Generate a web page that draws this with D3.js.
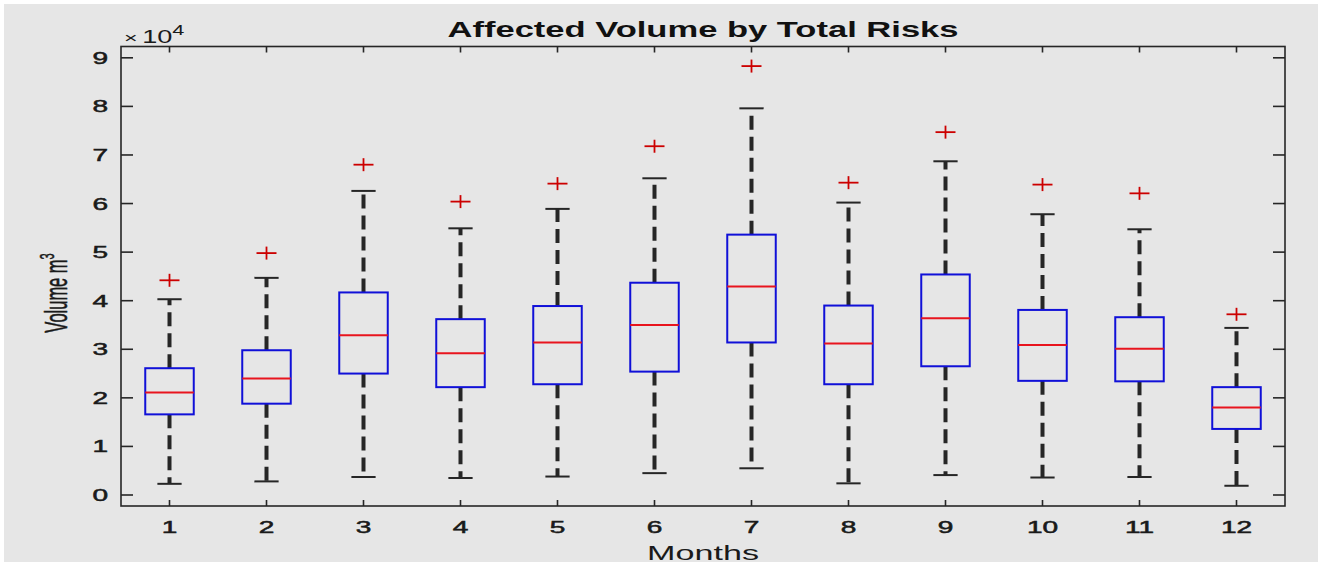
<!DOCTYPE html>
<html><head><meta charset="utf-8">
<script src="https://cdn.jsdelivr.net/npm/d3@7"></script>
<style>body{margin:0;background:#fff;} text{font-family:Arial,"Liberation Sans",Helvetica,sans-serif;}</style>
</head><body>
<svg id="c" width="1322" height="567"></svg>
<script>
const months = ["1","2","3","4","5","6","7","8","9","10","11","12"];
const lowerWhisker = [2300, 2800, 3700, 3500, 3800, 4500, 5500, 2400, 4100, 3600, 3700, 1900];
const q1 = [16600, 18800, 25000, 22200, 22800, 25400, 31400, 22800, 26500, 23500, 23400, 13600];
const median = [21100, 24000, 32900, 29200, 31400, 35000, 42900, 31200, 36400, 30900, 30100, 18000];
const q3 = [26100, 29800, 41700, 36200, 38900, 43700, 53600, 39000, 45400, 38100, 36600, 22200];
const upperWhisker = [40300, 44700, 62600, 54900, 58900, 65200, 79600, 60200, 68700, 57800, 54700, 34400];
const outliers = [44200, 49800, 68000, 60400, 64100, 71800, 88300, 64300, 74700, 63900, 62100, 37200];
const yTicks = [0,10000,20000,30000,40000,50000,60000,70000,80000,90000];

const svg = d3.select("#c");
const L=121, R=1285, T=46.5, B=506;
const SX = 1.7;
svg.append("rect").attr("x",4).attr("y",4).attr("width",1314).attr("height",558).attr("fill","#e6e6e6");

const x = d3.scaleLinear().domain([0.5,12.5]).range([L,R]);
const y = d3.scaleLinear().domain([-2265,92330]).range([B,T]);
const axisColor="#262626";
const txtCol="#1a1a1a";

const data = months.map((m,i)=>({m, i:i+1, lo:lowerWhisker[i], q1:q1[i], med:median[i], q3:q3[i], hi:upperWhisker[i], out:outliers[i]}));
const boxW = x(1.25)-x(1), capW = x(1.125)-x(1);
const g = svg.append("g");
data.forEach(d=>{
  const cx = x(d.i);
  g.append("line").attr("x1",cx).attr("x2",cx).attr("y1",y(d.q3)).attr("y2",y(d.hi))
    .attr("stroke","#262626").attr("stroke-width",4).attr("stroke-dasharray","14,7");
  g.append("line").attr("x1",cx).attr("x2",cx).attr("y1",y(d.q1)).attr("y2",y(d.lo))
    .attr("stroke","#262626").attr("stroke-width",4).attr("stroke-dasharray","14,7");
  [d.hi,d.lo].forEach(v=>g.append("line").attr("x1",cx-capW).attr("x2",cx+capW).attr("y1",y(v)).attr("y2",y(v))
    .attr("stroke","#262626").attr("stroke-width",2));
  g.append("rect").attr("x",cx-boxW).attr("width",2*boxW).attr("y",y(d.q3)).attr("height",y(d.q1)-y(d.q3))
    .attr("fill","none").attr("stroke","#1010d8").attr("stroke-width",2);
  g.append("line").attr("x1",cx-boxW).attr("x2",cx+boxW).attr("y1",y(d.med)).attr("y2",y(d.med))
    .attr("stroke","#e8141e").attr("stroke-width",2);
  const oy=y(d.out);
  g.append("line").attr("x1",cx-10).attr("x2",cx+10).attr("y1",oy).attr("y2",oy).attr("stroke","#cc0000").attr("stroke-width",1.8);
  g.append("line").attr("x1",cx).attr("x2",cx).attr("y1",oy-6.5).attr("y2",oy+6.5).attr("stroke","#cc0000").attr("stroke-width",1.8);
});

svg.append("rect").attr("x",L).attr("y",T).attr("width",R-L).attr("height",B-T).attr("fill","none").attr("stroke",axisColor).attr("stroke-width",1.6);

const xt = svg.append("g");
d3.range(1,13).forEach(i=>{
  const px=x(i);
  xt.append("line").attr("x1",px).attr("x2",px).attr("y1",B).attr("y2",B-6).attr("stroke",axisColor).attr("stroke-width",1.6);
  xt.append("line").attr("x1",px).attr("x2",px).attr("y1",T).attr("y2",T+6).attr("stroke",axisColor).attr("stroke-width",1.6);
  xt.append("text").attr("transform",`translate(${px},533) scale(${SX},1)`).attr("text-anchor","middle")
    .attr("font-size",16.5).attr("fill",txtCol).attr("stroke",txtCol).attr("stroke-width",0.5).text(months[i-1]);
});
yTicks.forEach(v=>{
  const py=y(v);
  xt.append("line").attr("x1",L).attr("x2",L+12).attr("y1",py).attr("y2",py).attr("stroke",axisColor).attr("stroke-width",1.6);
  xt.append("line").attr("x1",R).attr("x2",R-12).attr("y1",py).attr("y2",py).attr("stroke",axisColor).attr("stroke-width",1.6);
  xt.append("text").attr("transform",`translate(108,${py+6}) scale(${SX},1)`).attr("text-anchor","end")
    .attr("font-size",16.5).attr("fill",txtCol).attr("stroke",txtCol).attr("stroke-width",0.5).text(v/10000);
});

const ex = svg.append("text").attr("transform",`translate(124,43) scale(1.55,1)`).attr("fill",txtCol);
ex.append("tspan").attr("font-size",15).text("\u00d7");
ex.append("tspan").attr("font-size",17.5).attr("dx",3).text("10");
ex.append("tspan").attr("font-size",14).attr("dy",-8).text("4");

svg.append("text").attr("x",(L+R)/2).attr("y",37).attr("text-anchor","middle").attr("font-size",22).attr("font-weight","bold")
  .attr("fill","#111").attr("textLength",511).attr("lengthAdjust","spacingAndGlyphs").text("Affected Volume by Total Risks");
svg.append("text").attr("x",(L+R)/2).attr("y",560).attr("text-anchor","middle").attr("font-size",20)
  .attr("fill",txtCol).attr("textLength",112).attr("lengthAdjust","spacingAndGlyphs").text("Months");
const yl = svg.append("text").attr("transform",`translate(67,293) scale(1.85,1) rotate(-90)`).attr("text-anchor","middle")
  .attr("font-size",16.5).attr("fill",txtCol).attr("stroke",txtCol).attr("stroke-width",0.3);
yl.append("tspan").text("Volume m");
yl.append("tspan").attr("font-size",11).attr("dy",-7).text("3");
</script>
</body></html>
